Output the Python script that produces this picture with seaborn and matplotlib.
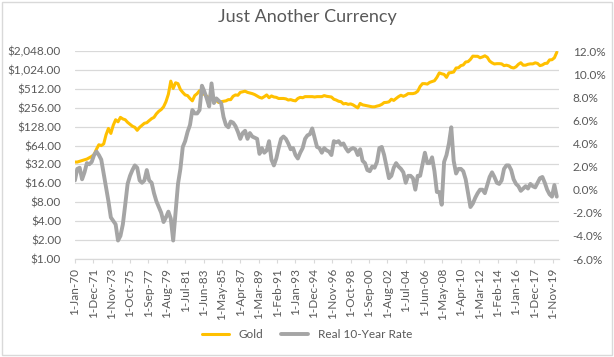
import pandas as pd
import matplotlib.pyplot as plt
from matplotlib.patches import Rectangle
import seaborn as sns


# Quarterly gold price (USD/oz), 1970 Q1 to 2020 Q2
gold = [
    35, 35, 36, 37, 38, 39, 41, 43, 46, 56, 66, 64, 68, 95, 120, 100,
    135, 165, 153, 180, 170, 165, 150, 140, 130, 125, 112, 125, 135, 145, 148, 160,
    172, 180, 205, 225, 240, 265, 320, 420, 680, 520, 640, 620, 500, 450, 410, 400,
    360, 330, 400, 430, 480, 430, 420, 390, 370, 375, 345, 335, 310, 320, 325, 330,
    345, 345, 390, 410, 405, 450, 460, 470, 450, 440, 430, 415, 395, 375, 365, 385,
    410, 370, 395, 380, 375, 360, 360, 360, 355, 340, 345, 335, 330, 360, 375, 370,
    385, 385, 385, 385, 380, 385, 385, 385, 400, 390, 385, 380, 350, 340, 325, 320,
    295, 300, 290, 295, 285, 270, 255, 300, 285, 280, 275, 270, 265, 265, 272, 278,
    290, 310, 312, 318, 350, 335, 360, 385, 405, 390, 405, 430, 430, 430, 440, 470,
    560, 620, 620, 610, 650, 670, 690, 780, 920, 890, 870, 780, 920, 930, 950, 1100,
    1110, 1200, 1230, 1370, 1390, 1510, 1700, 1690, 1690, 1600, 1650, 1720,
    1630, 1420, 1330, 1275, 1290, 1290, 1280, 1200, 1220, 1190, 1125, 1100,
    1150, 1260, 1335, 1220, 1220, 1260, 1280, 1280, 1330, 1300, 1200, 1230,
    1300, 1310, 1480, 1490, 1600, 1950,
]

# Quarterly real 10-year rate (%), same quarters
real_rate = [
    0.8, 1.8, 1.9, 0.9, 1.5, 2.3, 2.2, 2.4, 3.0, 3.3, 3.0, 2.6, 1.4, 0.2, -1.0, -2.4,
    -2.7, -3.0, -4.4, -4.0, -3.0, -1.3, 0.5, 1.2, 1.7, 2.1, 1.9, 0.8, 0.6, 0.8, 1.7, 0.8,
    0.6, -0.3, -1.0, -1.5, -2.0, -2.8, -2.4, -1.9, -2.5, -4.4, -2.0, 0.5, 1.8, 3.7, 4.2, 5.0,
    5.6, 6.9, 6.6, 6.6, 6.9, 9.0, 8.5, 7.9, 7.2, 9.2, 7.5, 7.9, 7.7, 7.5, 6.3, 5.6,
    5.4, 5.9, 5.8, 5.5, 5.0, 4.4, 4.9, 5.1, 4.4, 4.9, 4.6, 4.5, 4.4, 3.1, 3.6, 3.2,
    3.4, 4.2, 2.6, 2.1, 2.7, 3.6, 4.4, 4.6, 4.4, 4.0, 3.5, 3.6, 3.0, 2.7, 3.2, 3.6,
    4.4, 4.7, 4.8, 5.3, 4.5, 3.7, 3.6, 3.2, 3.6, 3.4, 3.3, 3.0, 4.2, 4.1, 4.2, 3.9,
    4.0, 3.6, 3.3, 3.5, 3.6, 3.5, 3.0, 3.5, 2.5, 2.3, 1.7, 1.6, 2.0, 1.9, 2.4, 3.6,
    3.7, 3.0, 2.0, 1.0, 1.2, 1.9, 2.3, 2.0, 1.8, 1.5, 0.6, 1.2, 1.2, 1.0, 0.0, 1.2,
    1.2, 2.2, 3.2, 2.3, 2.3, 2.8, 1.6, -0.2, -0.2, -1.3, 2.4, 3.0, 4.0, 5.4, 2.5, 1.4,
    1.8, 1.8, 1.6, 0.9, -0.3, -1.5, -1.2, -0.7, -0.3, 0.0, 0.0, -0.3,
    0.4, 1.1, 1.5, 1.1, 0.6, 0.5, 0.8, 1.8, 2.1, 2.1, 1.7, 0.9,
    0.5, 0.3, -0.1, 0.1, 0.3, 0.1, 0.5, 0.3, 0.2, 0.6, 1.0, 1.1,
    0.6, 0.0, -0.4, -0.6, 0.4, -0.6,
]

# Left axis ticks (log base 2) and right axis ticks
gold_ticks = [2 ** i for i in range(12)]
rate_ticks = list(range(-6, 13, 2))

dates = pd.date_range('1970-01-01', periods=len(gold), freq='QS')
df = pd.DataFrame({'Date': dates, 'Gold': gold, 'Real 10-Year Rate': real_rate})

sns.set_style('white')
plt.rcParams['font.family'] = ['Lato', 'DejaVu Sans']
text_col = '#595959'
grid_col = '#D9D9D9'

fig, ax = plt.subplots(figsize=(6.14, 3.57), dpi=100)
fig.subplots_adjust(left=0.122, right=0.910, top=0.857, bottom=0.2745)
ax2 = ax.twinx()

# Gold on the left log axis, real rate on the right axis
sns.lineplot(data=df, x='Date', y='Gold', ax=ax, color='#FFC000',
             linewidth=2.2, label='Gold', legend=False)
sns.lineplot(data=df, x='Date', y='Real 10-Year Rate', ax=ax2, color='#A5A5A5',
             linewidth=2.8, label='Real 10-Year Rate', legend=False)

ax.set_yscale('log', base=2)
ax.set_ylim(1, 2048)
ax.set_yticks(gold_ticks)
ax.set_yticklabels([f'${v:,.2f}' for v in gold_ticks])
ax.minorticks_off()
ax2.set_ylim(-6, 12)
ax2.set_yticks(rate_ticks)
ax2.set_yticklabels([f'{v:.1f}%' for v in rate_ticks])

# Date ticks every 23 months
xt = pd.date_range('1970-01-01', periods=27, freq='23MS')
ax.set_xticks(xt)
ax.set_xticklabels([f'1-{d:%b-%y}' for d in xt], rotation=90)
ax.set_xlim(pd.Timestamp('1970-01-01'), pd.Timestamp('2020-06-15'))

ax.set_xlabel('')
ax.set_ylabel('')
ax2.set_ylabel('')

# Gridlines and spines
ax.set_axisbelow(True)
ax.yaxis.grid(True, color=grid_col, linewidth=0.9)
ax.xaxis.grid(False)
for a in (ax, ax2):
    for s in ['left', 'right', 'top']:
        a.spines[s].set_visible(False)
    a.spines['bottom'].set_color(grid_col)
    a.tick_params(axis='y', length=0, labelsize=8.5, labelcolor=text_col)
ax.tick_params(axis='y', pad=10)
ax2.tick_params(axis='y', pad=10)
ax.tick_params(axis='x', length=3, color=grid_col, labelsize=8.5,
               labelcolor=text_col, bottom=True)

# Title
fig.text(0.5, 0.952, 'Just Another Currency', ha='center', va='center',
         fontsize=13, color=text_col)

# Legend at the bottom
handles = ax.get_lines()[:1] + ax2.get_lines()[:1]
leg = fig.legend(handles, ['Gold', 'Real 10-Year Rate'], loc='center',
                 bbox_to_anchor=(0.5, 0.062), ncol=2, frameon=False,
                 fontsize=8.5, handlelength=2.3, columnspacing=1.5)
for t in leg.get_texts():
    t.set_color(text_col)

# Chart border
fig.patches.append(Rectangle((0.003, 0.005), 0.993, 0.99, transform=fig.transFigure,
                             fill=False, edgecolor=grid_col, linewidth=1))

fig.savefig('out.png', dpi=100)
